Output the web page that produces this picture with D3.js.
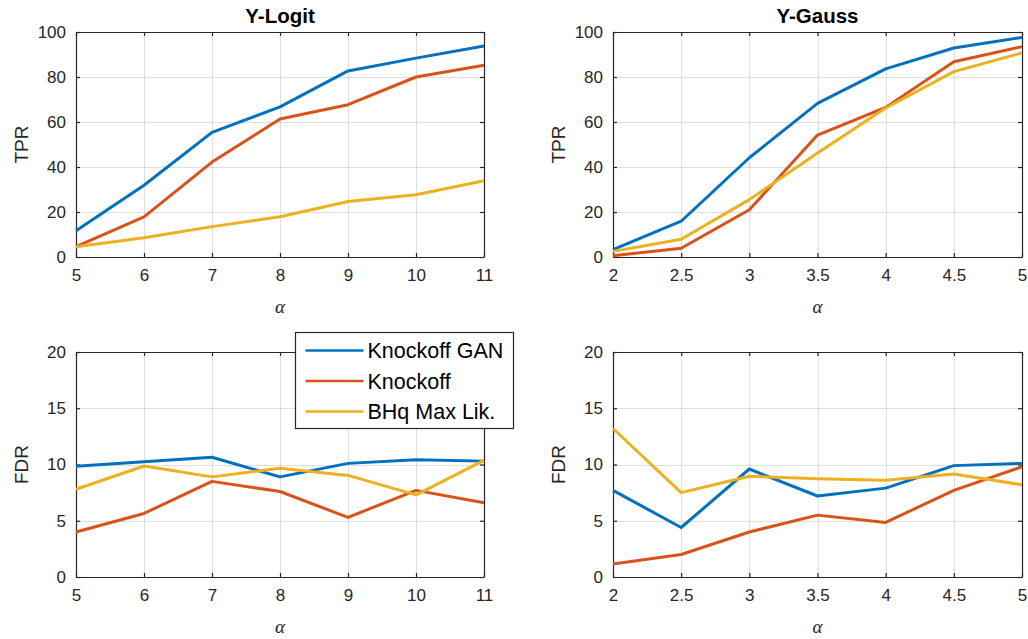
<!DOCTYPE html>
<html>
<head>
<meta charset="utf-8">
<script src="https://cdn.jsdelivr.net/npm/d3@7"></script>
<style>
  html, body { margin: 0; padding: 0; background: #fff; }
  svg { display: block; }
  text { font-family: "Liberation Sans", Arial, sans-serif; fill: #262626; }
</style>
</head>
<body>
<svg id="chart" width="1028" height="639"></svg>
<script>
// ---- data ----
const seriesNames = ["Knockoff GAN", "Knockoff", "BHq Max Lik."];
const seriesColors = ["#0072BD", "#D95319", "#EDB120"];

const alphaLogit = [5, 6, 7, 8, 9, 10, 11];
const alphaGauss = [2, 2.5, 3, 3.5, 4, 4.5, 5];

const tprLogitKGAN = [11.7, 31.9, 55.4, 66.7, 82.7, 88.4, 93.8];
const tprLogitKO   = [4.6, 17.8, 42.2, 61.3, 67.7, 80.0, 85.2];
const tprLogitBHq  = [4.6, 8.6, 13.5, 17.9, 24.7, 27.7, 33.9];

const tprGaussKGAN = [3.3, 15.9, 44.1, 68.3, 83.6, 92.9, 97.6];
const tprGaussKO   = [0.6, 3.9, 21.0, 54.2, 66.5, 86.8, 93.5];
const tprGaussBHq  = [2.5, 7.9, 25.5, 46.2, 66.2, 82.4, 90.7];

const fdrLogitKGAN = [9.84, 10.25, 10.64, 8.9, 10.1, 10.43, 10.3];
const fdrLogitKO   = [4.0, 5.65, 8.5, 7.6, 5.3, 7.7, 6.6];
const fdrLogitBHq  = [7.8, 9.87, 8.9, 9.66, 9.03, 7.3, 10.37];

const fdrGaussKGAN = [7.7, 4.4, 9.6, 7.2, 7.9, 9.9, 10.1];
const fdrGaussKO   = [1.16, 2.0, 4.0, 5.5, 4.85, 7.7, 9.8];
const fdrGaussBHq  = [13.2, 7.5, 8.95, 8.74, 8.6, 9.15, 8.2];

const tprTicks = [0, 20, 40, 60, 80, 100];
const fdrTicks = [0, 5, 10, 15, 20];
const logitTicks = [5, 6, 7, 8, 9, 10, 11];
const gaussTicks = [2, 2.5, 3, 3.5, 4, 4.5, 5];

// ---- layout ----
const panels = [
  { x0: 76, x1: 484, y0: 32, y1: 257, xs: alphaLogit, xTicks: logitTicks, xDom: [5, 11],
    yDom: [0, 100], yTicks: tprTicks, ylab: "TPR", title: "Y-Logit",
    data: [tprLogitKGAN, tprLogitKO, tprLogitBHq] },
  { x0: 613, x1: 1022, y0: 32, y1: 257, xs: alphaGauss, xTicks: gaussTicks, xDom: [2, 5],
    yDom: [0, 100], yTicks: tprTicks, ylab: "TPR", title: "Y-Gauss",
    data: [tprGaussKGAN, tprGaussKO, tprGaussBHq] },
  { x0: 76, x1: 484, y0: 352, y1: 577, xs: alphaLogit, xTicks: logitTicks, xDom: [5, 11],
    yDom: [0, 20], yTicks: fdrTicks, ylab: "FDR", title: null,
    data: [fdrLogitKGAN, fdrLogitKO, fdrLogitBHq] },
  { x0: 613, x1: 1022, y0: 352, y1: 577, xs: alphaGauss, xTicks: gaussTicks, xDom: [2, 5],
    yDom: [0, 20], yTicks: fdrTicks, ylab: "FDR", title: null,
    data: [fdrGaussKGAN, fdrGaussKO, fdrGaussBHq] }
];

const svg = d3.select("#chart");
const axisColor = "#262626";
const tickLen = 4;

panels.forEach(p => {
  const x = d3.scaleLinear().domain(p.xDom).range([p.x0, p.x1]);
  const y = d3.scaleLinear().domain(p.yDom).range([p.y1, p.y0]);
  const g = svg.append("g");

  // grid
  g.append("g").selectAll("line").data(p.xTicks).join("line")
    .attr("x1", d => Math.round(x(d)) + 0.5).attr("x2", d => Math.round(x(d)) + 0.5)
    .attr("y1", p.y0).attr("y2", p.y1)
    .attr("stroke", axisColor).attr("stroke-opacity", 0.15).attr("stroke-width", 1);
  g.append("g").selectAll("line").data(p.yTicks).join("line")
    .attr("y1", d => Math.round(y(d)) + 0.5).attr("y2", d => Math.round(y(d)) + 0.5)
    .attr("x1", p.x0).attr("x2", p.x1)
    .attr("stroke", axisColor).attr("stroke-opacity", 0.15).attr("stroke-width", 1);

  // axes via d3 axis (inward ticks)
  const bottom = d3.axisBottom(x).tickValues(p.xTicks).tickSizeInner(-tickLen).tickSizeOuter(0)
    .tickPadding(12).tickFormat(d3.format("~g"));
  const top = d3.axisTop(x).tickValues(p.xTicks).tickSizeInner(-tickLen).tickSizeOuter(0).tickFormat("");
  const left = d3.axisLeft(y).tickValues(p.yTicks).tickSizeInner(-tickLen).tickSizeOuter(0)
    .tickPadding(10).tickFormat(d3.format("~g"));
  const right = d3.axisRight(y).tickValues(p.yTicks).tickSizeInner(-tickLen).tickSizeOuter(0).tickFormat("");

  const styleAxis = sel => {
    sel.selectAll("path").attr("stroke", axisColor).attr("stroke-width", 1.2);
    sel.selectAll("line").attr("stroke", axisColor).attr("stroke-width", 1.2);
    sel.selectAll("text").attr("fill", axisColor)
      .style("font-family", '"Liberation Sans", Arial, sans-serif').style("font-size", "17px");
  };
  g.append("g").attr("transform", `translate(0,${p.y1})`).call(bottom).call(styleAxis);
  g.append("g").attr("transform", `translate(0,${p.y0})`).call(top).call(styleAxis);
  g.append("g").attr("transform", `translate(${p.x0},0)`).call(left).call(styleAxis);
  g.append("g").attr("transform", `translate(${p.x1},0)`).call(right).call(styleAxis);

  // series
  const line = d3.line().x((d, i) => x(p.xs[i])).y(d => y(d));
  p.data.forEach((vals, k) => {
    g.append("path").datum(vals)
      .attr("d", line)
      .attr("fill", "none")
      .attr("stroke", seriesColors[k])
      .attr("stroke-width", 3)
      .attr("stroke-linejoin", "round");
  });

  // labels
  g.append("text")
    .attr("transform", `translate(${p.x0 - 48},${(p.y0 + p.y1) / 2}) rotate(-90)`)
    .attr("text-anchor", "middle")
    .style("font-size", "19px")
    .text(p.ylab);
  g.append("text")
    .attr("x", (p.x0 + p.x1) / 2).attr("y", p.y1 + 56)
    .attr("text-anchor", "middle")
    .style("font-family", '"Liberation Serif", "DejaVu Serif", serif')
    .style("font-style", "italic")
    .style("font-size", "19px")
    .text("α");
  if (p.title) {
    g.append("text")
      .attr("x", (p.x0 + p.x1) / 2).attr("y", p.y0 - 9)
      .attr("text-anchor", "middle")
      .style("font-size", "20.5px").style("font-weight", "bold")
      .attr("fill", "#000").style("fill", "#000")
      .text(p.title);
  }
});

// legend
const lg = svg.append("g");
const lx = 295.5, ly = 332.5, lw = 218, lh = 96;
lg.append("rect").attr("x", lx).attr("y", ly).attr("width", lw).attr("height", lh)
  .attr("fill", "#fff").attr("stroke", axisColor).attr("stroke-width", 1.2);
seriesNames.forEach((name, i) => {
  const cy = ly + 18 + i * 30.5;
  lg.append("line").attr("x1", lx + 10).attr("x2", lx + 68).attr("y1", cy).attr("y2", cy)
    .attr("stroke", seriesColors[i]).attr("stroke-width", 2.6);
  lg.append("text").attr("x", lx + 72).attr("y", cy).attr("dy", "0.36em")
    .style("font-size", "21.5px").attr("fill", "#000").style("fill", "#000").text(name);
});
</script>
</body>
</html>
